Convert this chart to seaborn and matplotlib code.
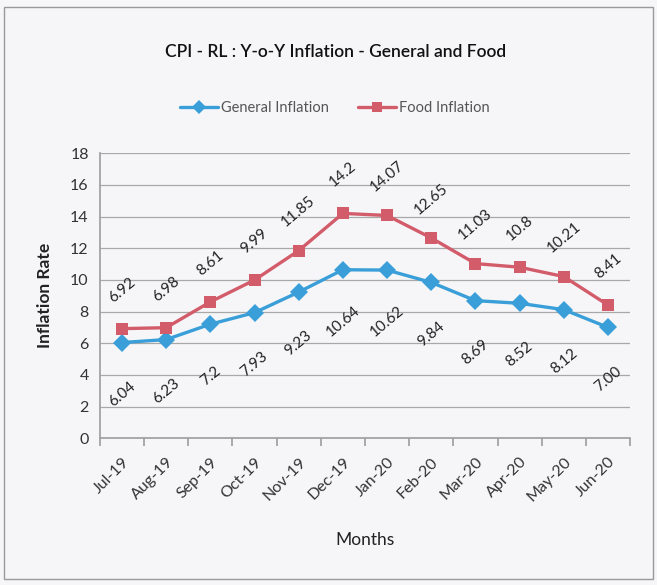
import matplotlib
matplotlib.use("Agg")
import matplotlib.pyplot as plt
import seaborn as sns
import pandas as pd
from matplotlib.patches import Rectangle
from matplotlib.lines import Line2D

months = ["Jul-19", "Aug-19", "Sep-19", "Oct-19", "Nov-19", "Dec-19",
          "Jan-20", "Feb-20", "Mar-20", "Apr-20", "May-20", "Jun-20"]
general = [6.04, 6.23, 7.2, 7.93, 9.23, 10.64, 10.62, 9.84, 8.69, 8.52, 8.12, 7.00]
food = [6.92, 6.98, 8.61, 9.99, 11.85, 14.2, 14.07, 12.65, 11.03, 10.8, 10.21, 8.41]
general_labels = ["6.04", "6.23", "7.2", "7.93", "9.23", "10.64", "10.62", "9.84", "8.69", "8.52", "8.12", "7.00"]
food_labels = ["6.92", "6.98", "8.61", "9.99", "11.85", "14.2", "14.07", "12.65", "11.03", "10.8", "10.21", "8.41"]
series_names = ["General Inflation", "Food Inflation"]

sns.set_theme(style="white")
plt.rcParams["font.family"] = ["Lato", "DejaVu Sans"]

blue = "#3A9FD8"
red = "#D35C6B"

df = pd.DataFrame({
    "pos": list(range(len(months))) * 2,
    "value": general + food,
    "series": [series_names[0]] * len(months) + [series_names[1]] * len(months),
})

fig = plt.figure(figsize=(6.57, 5.85), dpi=100)
fig.patch.set_facecolor("#f6f6f9")
fig.patches.append(Rectangle((0.006, 0.01), 0.988, 0.978, transform=fig.transFigure,
                             fill=False, edgecolor="#9a9a9a", linewidth=1.0))
ax = fig.add_axes([0.152, 0.251, 0.807, 0.487])
ax.set_facecolor("#f6f6f9")

sns.lineplot(data=df, x="pos", y="value", hue="series", style="series",
             palette=[blue, red], markers={series_names[0]: "D", series_names[1]: "s"},
             dashes=False, markersize=9, linewidth=2.4, markeredgewidth=0, ax=ax, legend=False)

ax.set_xlim(-0.5, len(months) - 0.5)
ax.set_ylim(0, 18)
ax.set_yticks(range(0, 19, 2))
ax.yaxis.grid(True, color="#a8a8a8", linewidth=0.9)
ax.xaxis.grid(False)
for s in ["top", "right"]:
    ax.spines[s].set_visible(False)
ax.spines["left"].set_color("#a0a0a0")
ax.spines["bottom"].set_color("#a0a0a0")

ax.set_xticks([i - 0.5 for i in range(len(months) + 1)])
ax.set_xticklabels([])
ax.tick_params(axis="x", which="major", length=6, color="#a0a0a0", direction="out", bottom=True)
ax.set_xticks(range(len(months)), minor=True)
ax.set_xticklabels(months, minor=True, rotation=45, ha="right", rotation_mode="anchor",
                   fontsize=11.5, color="#333333")
ax.tick_params(axis="x", which="minor", length=0, pad=12)
ax.tick_params(axis="y", labelsize=11.5, colors="#333333", length=0, pad=8)

ax.set_xlabel("Months", fontsize=12.5, color="#222222", labelpad=20)
ax.set_ylabel("Inflation Rate", fontsize=12.5, fontweight="bold", color="#222222", labelpad=12)

for i, (v, t) in enumerate(zip(food, food_labels)):
    ax.annotate(t, (i, v), xytext=(0, 28), textcoords="offset points", ha="center", va="center",
                rotation=40, fontsize=11, color="#222222")
for i, (v, t) in enumerate(zip(general, general_labels)):
    ax.annotate(t, (i, v), xytext=(0, -37), textcoords="offset points", ha="center", va="center",
                rotation=40, fontsize=11, color="#222222")

fig.text(0.51, 0.911, "CPI - RL : Y-o-Y Inflation - General and Food", ha="center", va="center",
         fontsize=12.5, color="#111111", fontweight="semibold")

handles = [Line2D([], [], color=blue, marker="D", markersize=7, linewidth=2.4, markeredgewidth=0),
           Line2D([], [], color=red, marker="s", markersize=7, linewidth=2.4, markeredgewidth=0)]
fig.legend(handles, series_names, loc="center", bbox_to_anchor=(0.51, 0.815), ncol=2,
           frameon=False, fontsize=10.5, handlelength=2.6, columnspacing=2.0, handletextpad=0.2,
           labelcolor="#555555")

fig.savefig("out.png", dpi=100, facecolor=fig.get_facecolor())
